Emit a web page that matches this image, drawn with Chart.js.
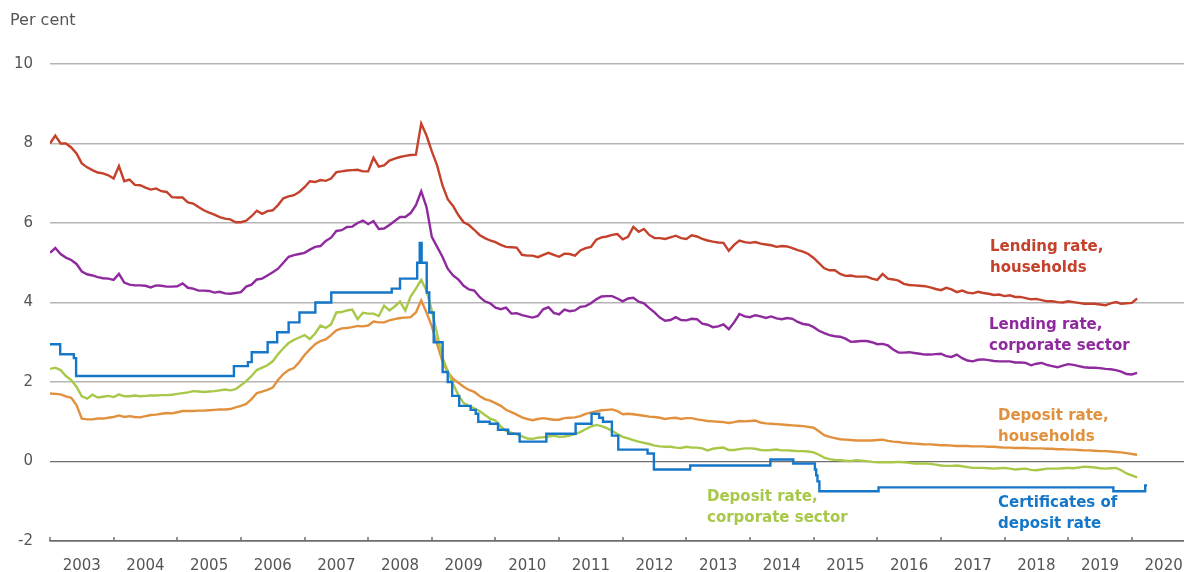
<!DOCTYPE html>
<html>
<head>
<meta charset="utf-8">
<script src="https://cdn.jsdelivr.net/npm/chart.js@4.4.1/dist/chart.umd.min.js"></script>
<style>
html,body{margin:0;padding:0;background:#fff;}
#wrap{width:1184px;height:572px;position:relative;}
</style>
</head>
<body>
<div id="wrap"><canvas id="c" width="1184" height="572"></canvas></div>
<script>
// ---- DATA (monthly, starting January 2003) ----
const startYear = 2003;

const lendingHouseholds = [
 8.0, 8.2, 8.0, 8.0, 7.9, 7.75, 7.5, 7.4, 7.33, 7.27,
 7.25, 7.2, 7.12, 7.43, 7.05, 7.09, 6.96, 6.95, 6.89, 6.84,
 6.87, 6.8, 6.78, 6.65, 6.64, 6.64, 6.52, 6.49, 6.4, 6.32,
 6.26, 6.21, 6.15, 6.11, 6.09, 6.02, 6.02, 6.06, 6.17, 6.31,
 6.23, 6.3, 6.32, 6.45, 6.62, 6.67, 6.7, 6.78, 6.9, 7.05,
 7.03, 7.08, 7.06, 7.12, 7.28, 7.3, 7.32, 7.33, 7.34, 7.3,
 7.3, 7.64, 7.42, 7.45, 7.57, 7.62, 7.66, 7.69, 7.71, 7.72,
 8.5, 8.2, 7.8, 7.45, 6.95, 6.6, 6.43, 6.2, 6.02, 5.95,
 5.83, 5.7, 5.62, 5.56, 5.52, 5.45, 5.4, 5.39, 5.38, 5.2,
 5.18, 5.18, 5.14, 5.2, 5.25, 5.2, 5.15, 5.23, 5.22, 5.18,
 5.31, 5.37, 5.4, 5.58, 5.64, 5.66, 5.7, 5.72, 5.59, 5.65,
 5.9, 5.78, 5.85, 5.7, 5.62, 5.62, 5.6, 5.64, 5.68, 5.62,
 5.6, 5.69, 5.66, 5.6, 5.56, 5.53, 5.51, 5.5, 5.3, 5.45,
 5.56, 5.52, 5.5, 5.52, 5.48, 5.46, 5.44, 5.4, 5.42, 5.41,
 5.37, 5.32, 5.28, 5.22, 5.12, 4.99, 4.86, 4.81, 4.81, 4.72,
 4.67, 4.68, 4.65, 4.65, 4.65, 4.6, 4.57, 4.72, 4.6, 4.58,
 4.55, 4.47, 4.44, 4.43, 4.42, 4.41, 4.38, 4.34, 4.31, 4.37,
 4.33, 4.26, 4.3, 4.25, 4.23, 4.27, 4.24, 4.22, 4.19, 4.2,
 4.16, 4.18, 4.14, 4.14, 4.11, 4.08, 4.09, 4.06, 4.03, 4.03,
 4.01, 4.0, 4.03, 4.01, 3.99, 3.97, 3.97, 3.97, 3.95, 3.93,
 3.98, 4.01, 3.97, 3.98, 3.99, 4.1
];

const lendingCorporate = [
 5.25, 5.37, 5.22, 5.13, 5.07, 4.97, 4.78, 4.71, 4.68, 4.64,
 4.61, 4.6, 4.57, 4.72, 4.5, 4.45, 4.43, 4.43, 4.42, 4.38,
 4.43, 4.42, 4.4, 4.4, 4.41, 4.48, 4.37, 4.35, 4.3, 4.3,
 4.29, 4.25, 4.27, 4.23, 4.22, 4.24, 4.26, 4.4, 4.45, 4.58,
 4.6, 4.68, 4.76, 4.85, 5.0, 5.15, 5.19, 5.22, 5.25, 5.33,
 5.4, 5.42, 5.55, 5.63, 5.8, 5.82, 5.9, 5.91, 6.0, 6.06,
 5.97, 6.05, 5.85, 5.86, 5.95, 6.05, 6.15, 6.15, 6.25, 6.45,
 6.8, 6.4, 5.65, 5.4, 5.15, 4.85, 4.68, 4.58, 4.42, 4.33,
 4.3, 4.14, 4.03, 3.98, 3.87, 3.83, 3.87, 3.72, 3.73, 3.68,
 3.65, 3.62, 3.66, 3.83, 3.88, 3.74, 3.7, 3.82, 3.78, 3.8,
 3.89, 3.91, 3.98, 4.08, 4.15, 4.16, 4.16, 4.1, 4.03, 4.1,
 4.12, 4.02, 3.98, 3.86, 3.75, 3.62, 3.54, 3.56, 3.63, 3.56,
 3.55, 3.59, 3.58, 3.47, 3.44, 3.38, 3.4, 3.45, 3.33, 3.5,
 3.71, 3.65, 3.63, 3.68, 3.65, 3.61, 3.65, 3.6, 3.58, 3.61,
 3.59, 3.51, 3.46, 3.44, 3.38, 3.29, 3.23, 3.18, 3.15, 3.14,
 3.09, 3.01, 3.02, 3.03, 3.03, 3.0, 2.95, 2.96, 2.92, 2.82,
 2.74, 2.74, 2.75, 2.73, 2.71, 2.69, 2.69, 2.7, 2.71, 2.65,
 2.63, 2.69, 2.6, 2.54, 2.52, 2.56, 2.57, 2.55, 2.53, 2.52,
 2.52, 2.52, 2.49, 2.49, 2.48, 2.42, 2.46, 2.48, 2.43, 2.4,
 2.37, 2.41, 2.45, 2.43, 2.4, 2.37, 2.36, 2.36, 2.35, 2.33,
 2.32, 2.3, 2.26, 2.2, 2.19, 2.23
];

const depositHouseholds = [
 1.71, 1.7, 1.69, 1.64, 1.6, 1.42, 1.08, 1.06, 1.06, 1.08,
 1.08, 1.1, 1.12, 1.16, 1.12, 1.14, 1.12, 1.11, 1.14, 1.17,
 1.18, 1.2, 1.22, 1.21, 1.24, 1.27, 1.27, 1.27, 1.28, 1.28,
 1.29, 1.3, 1.31, 1.31, 1.32, 1.36, 1.4, 1.45, 1.57, 1.72,
 1.76, 1.8, 1.86, 2.05, 2.2, 2.3, 2.35, 2.5, 2.68, 2.82,
 2.95, 3.03, 3.07, 3.18, 3.3, 3.35, 3.36, 3.38, 3.41, 3.4,
 3.42, 3.52, 3.5, 3.5, 3.55, 3.58, 3.61, 3.62, 3.63, 3.75,
 4.05, 3.75, 3.4, 2.95, 2.52, 2.25, 2.08, 1.98, 1.88, 1.8,
 1.75, 1.65, 1.57, 1.53, 1.47, 1.4, 1.3, 1.24, 1.18, 1.11,
 1.07, 1.04, 1.07, 1.09, 1.07, 1.05, 1.05, 1.09, 1.1, 1.11,
 1.14, 1.2, 1.23, 1.26, 1.29, 1.3, 1.31, 1.27, 1.19, 1.2,
 1.19, 1.17, 1.15, 1.13, 1.12, 1.1, 1.07, 1.09, 1.1, 1.07,
 1.09, 1.09, 1.06, 1.04, 1.02, 1.01, 1.0, 0.99, 0.97, 0.99,
 1.02, 1.01, 1.02, 1.03, 0.98, 0.96, 0.95, 0.94, 0.93, 0.92,
 0.91, 0.9, 0.89, 0.87, 0.85, 0.76, 0.66, 0.62, 0.59, 0.56,
 0.55, 0.54, 0.53, 0.53, 0.53, 0.53, 0.54, 0.55, 0.52, 0.5,
 0.49, 0.47, 0.46, 0.45, 0.44, 0.43, 0.43, 0.42, 0.41, 0.41,
 0.4, 0.39, 0.39, 0.39, 0.38, 0.38, 0.38, 0.37, 0.37, 0.36,
 0.35, 0.35, 0.34, 0.34, 0.34, 0.33, 0.33, 0.33, 0.32, 0.32,
 0.31, 0.31, 0.3, 0.3, 0.29, 0.28, 0.28, 0.27, 0.26, 0.26,
 0.25, 0.24, 0.23, 0.21, 0.19, 0.17
];

const depositCorporate = [
 2.33, 2.36, 2.3, 2.15, 2.05, 1.88, 1.64, 1.58, 1.68, 1.61,
 1.63, 1.65, 1.62, 1.69, 1.64, 1.64, 1.66, 1.64, 1.65, 1.66,
 1.66, 1.67, 1.67, 1.68, 1.7, 1.72, 1.74, 1.77, 1.76, 1.75,
 1.76, 1.77, 1.79, 1.81, 1.79, 1.82, 1.92, 2.02, 2.15, 2.3,
 2.36, 2.42, 2.52, 2.7, 2.85, 2.98, 3.06, 3.12, 3.18, 3.08,
 3.22, 3.42, 3.36, 3.45, 3.75, 3.76, 3.8, 3.82, 3.58, 3.74,
 3.72, 3.72, 3.66, 3.92, 3.8, 3.9, 4.02, 3.8, 4.15, 4.35,
 4.57, 4.3, 3.8, 3.2, 2.62, 2.28, 1.95, 1.67, 1.47, 1.4,
 1.34, 1.27, 1.17, 1.08, 1.03, 0.88, 0.77, 0.72, 0.69, 0.63,
 0.58, 0.57, 0.6, 0.61, 0.63, 0.65, 0.62, 0.63, 0.65, 0.69,
 0.74, 0.81, 0.88, 0.92, 0.89, 0.84, 0.77, 0.69, 0.62, 0.58,
 0.54, 0.5, 0.47, 0.44, 0.4, 0.38, 0.37, 0.37, 0.35, 0.34,
 0.37, 0.35, 0.35, 0.33, 0.28, 0.32, 0.34, 0.35, 0.29, 0.29,
 0.31, 0.33, 0.33, 0.32, 0.29, 0.28, 0.29, 0.3, 0.28, 0.28,
 0.27, 0.26, 0.26, 0.25, 0.23, 0.17, 0.1, 0.06, 0.04, 0.03,
 0.02, 0.01, 0.03, 0.02, 0.01, -0.01, -0.02, -0.02, -0.02, -0.02,
 -0.01, -0.02, -0.03, -0.05, -0.05, -0.05, -0.06, -0.08, -0.1, -0.11,
 -0.11, -0.1, -0.12, -0.14, -0.16, -0.16, -0.16, -0.17, -0.18, -0.17,
 -0.16, -0.18, -0.2, -0.19, -0.18, -0.21, -0.22, -0.2, -0.18, -0.18,
 -0.18, -0.17, -0.16, -0.17, -0.15, -0.13, -0.14, -0.15, -0.17, -0.18,
 -0.17, -0.16, -0.22, -0.3, -0.35, -0.4
];

// Certificates of deposit rate: change dates (decimal year) and new rate
const cdDates = [
 2003.00, 2003.16, 2003.375, 2003.41, 2005.89, 2006.11, 2006.17, 2006.42, 2006.57, 2006.75,
 2006.92, 2007.17, 2007.42, 2008.37, 2008.50, 2008.77, 2008.81, 2008.84, 2008.92, 2008.96,
 2009.03, 2009.17, 2009.25, 2009.32, 2009.43, 2009.61, 2009.69, 2009.73, 2009.91, 2010.04,
 2010.20, 2010.38, 2010.80, 2011.26, 2011.51, 2011.63, 2011.69, 2011.83, 2011.93, 2012.39,
 2012.49, 2013.06, 2014.32, 2014.68, 2015.02, 2015.04, 2015.06, 2015.09, 2016.02, 2019.71,
 2020.21, 2020.24
];
const cdRates = [
 2.95, 2.70, 2.60, 2.15, 2.40, 2.50, 2.75, 3.00, 3.25, 3.50,
 3.75, 4.00, 4.25, 4.35, 4.60, 5.00, 5.50, 5.00, 4.25, 3.75,
 3.00, 2.25, 2.00, 1.65, 1.40, 1.30, 1.20, 1.00, 0.95, 0.80,
 0.70, 0.50, 0.70, 0.95, 1.20, 1.10, 1.00, 0.65, 0.30, 0.20,
 -0.20, -0.10, 0.05, -0.05, -0.20, -0.35, -0.50, -0.75, -0.65, -0.75,
 -0.60, -0.60
];

const yTicks = [10, 8, 6, 4, 2, 0, -2];
const yearLabels = [2003,2004,2005,2006,2007,2008,2009,2010,2011,2012,2013,2014,2015,2016,2017,2018,2019,2020];

// ---- STYLE ----
const RED = '#c4412b', PURPLE = '#8e2a9d', ORANGE = '#e1913e', GREEN = '#a8c84a', BLUE = '#1677c8';
const FONT = 'DejaVu Sans';
const AXIS_COL = '#6e6e6e', GRID_COL = '#b5b5b5', TEXT_COL = '#555555';

function monthly(arr) { return arr.map((v, i) => ({ x: startYear + i / 12, y: v })); }

const labelBlocks = [
  { lines: ['Lending rate,', 'households'], color: RED, x: 990, y: 247 },
  { lines: ['Lending rate,', 'corporate sector'], color: PURPLE, x: 989, y: 325 },
  { lines: ['Deposit rate,', 'households'], color: ORANGE, x: 998, y: 416 },
  { lines: ['Deposit rate,', 'corporate sector'], color: GREEN, x: 707, y: 497 },
  { lines: ['Certificates of', 'deposit rate'], color: BLUE, x: 998, y: 503 }
];

const decor = {
  id: 'decor',
  afterDraw(chart) {
    const ctx = chart.ctx, xs = chart.scales.x, area = chart.chartArea;
    ctx.save();
    ctx.strokeStyle = AXIS_COL; ctx.lineWidth = 1.5;
    yearLabels.forEach(yr => {
      const px = Math.round(xs.getPixelForValue(yr));
      ctx.beginPath(); ctx.moveTo(px, area.bottom); ctx.lineTo(px, area.bottom - 4); ctx.stroke();
    });
    ctx.fillStyle = TEXT_COL; ctx.font = '16px "' + FONT + '"';
    ctx.textBaseline = 'middle'; ctx.textAlign = 'left';
    ctx.fillText('Per cent', 10, 21);
    ctx.font = 'bold 15px "' + FONT + '"';
    labelBlocks.forEach(b => {
      ctx.fillStyle = b.color;
      b.lines.forEach((t, i) => ctx.fillText(t, b.x, b.y + i * 21));
    });
    ctx.restore();
  }
};

const lineStyle = (color) => ({ borderColor: color, backgroundColor: color, borderWidth: 2.4, pointRadius: 0, fill: false, tension: 0 });

new Chart(document.getElementById('c'), {
  type: 'line',
  data: {
    datasets: [
      Object.assign({ label: 'Certificates of deposit rate', data: cdDates.map((d, i) => ({ x: d, y: cdRates[i] })), stepped: 'before' }, lineStyle(BLUE)),
      Object.assign({ label: 'Deposit rate, corporate sector', data: monthly(depositCorporate) }, lineStyle(GREEN)),
      Object.assign({ label: 'Deposit rate, households', data: monthly(depositHouseholds) }, lineStyle(ORANGE)),
      Object.assign({ label: 'Lending rate, corporate sector', data: monthly(lendingCorporate) }, lineStyle(PURPLE)),
      Object.assign({ label: 'Lending rate, households', data: monthly(lendingHouseholds) }, lineStyle(RED))
    ]
  },
  options: {
    responsive: false,
    animation: false,
    events: [],
    layout: { padding: { top: 64, left: 0, right: 0, bottom: 0 } },
    plugins: { legend: { display: false }, tooltip: { enabled: false }, title: { display: false } },
    scales: {
      x: {
        type: 'linear', min: 2003, max: 2020.82,
        afterFit: s => { s.height = 31; s.paddingLeft = 0; s.paddingRight = 0; },
        afterBuildTicks: s => { s.ticks = yearLabels.map(y => ({ value: y + 0.5 })); },
        grid: { display: false, drawTicks: false },
        border: { display: true, color: AXIS_COL, width: 1.5 },
        ticks: {
          autoSkip: false, maxRotation: 0, minRotation: 0, padding: 16,
          color: TEXT_COL, font: { family: FONT, size: 15 },
          callback: v => String(Math.floor(v))
        }
      },
      y: {
        min: -2, max: 10,
        afterFit: s => { s.width = 50; },
        afterBuildTicks: s => { s.ticks = yTicks.map(v => ({ value: v })); },
        grid: {
          drawTicks: false,
          color: c => (c.tick && c.tick.value <= 0) ? AXIS_COL : GRID_COL,
          lineWidth: c => (c.tick && c.tick.value === 0) ? 1.2 : 1.5
        },
        border: { display: false },
        ticks: { padding: 17, color: TEXT_COL, font: { family: FONT, size: 15 } }
      }
    }
  },
  plugins: [decor]
});
</script>
</body>
</html>
